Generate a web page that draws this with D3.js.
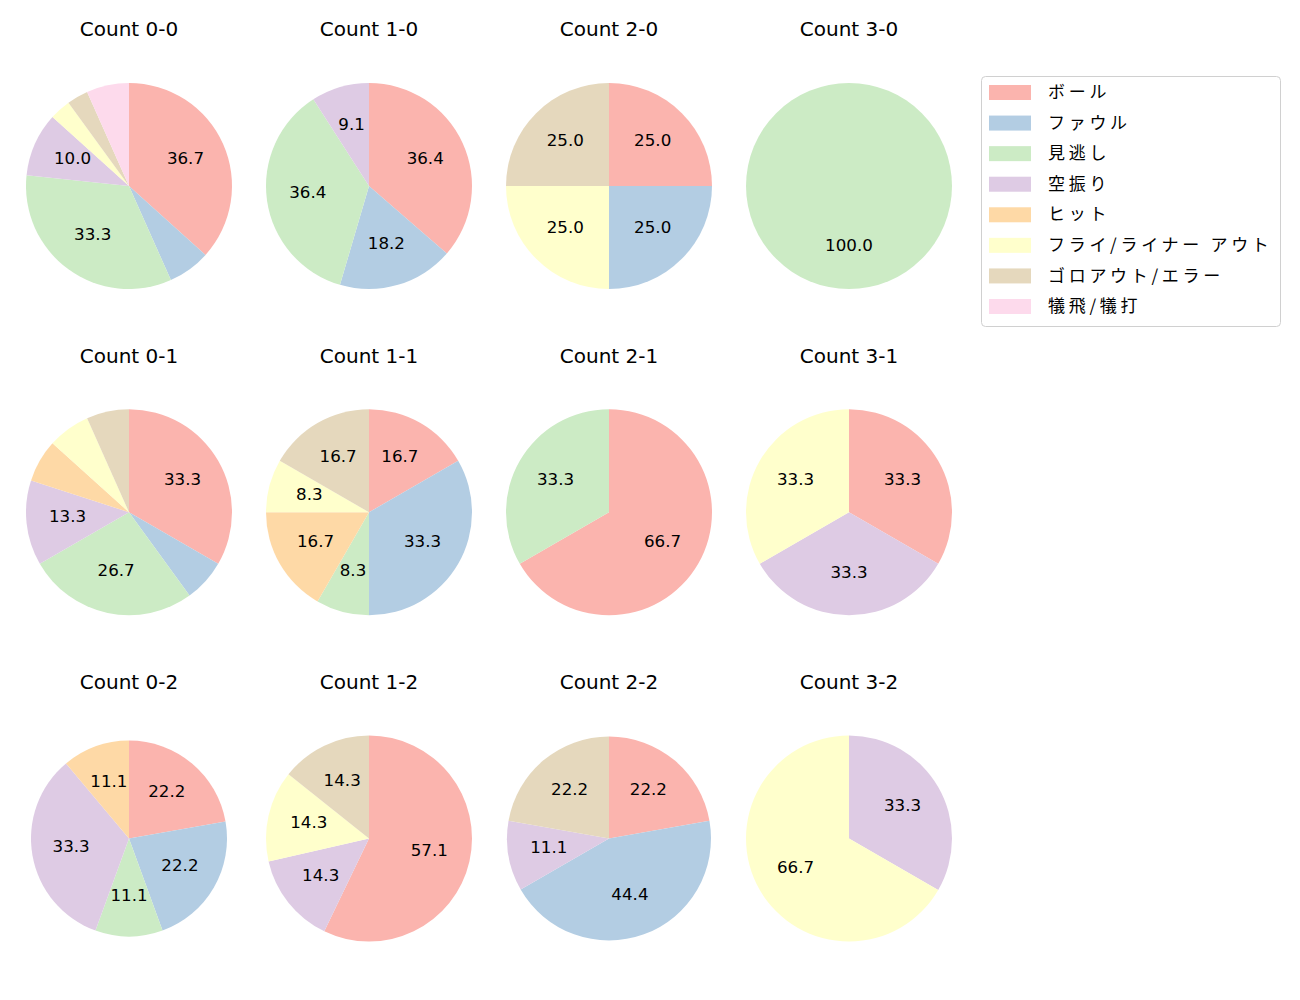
<!DOCTYPE html>
<html><head><meta charset="utf-8">
<script src="https://cdn.jsdelivr.net/npm/d3@7"></script>
<style>body{margin:0;background:#fff}</style>
</head><body>
<script>
const categories = ["ボール","ファウル","見逃し","空振り","ヒット","フライ/ライナー アウト","ゴロアウト/エラー","犠飛/犠打"];
const colors = ["#fbb4ae","#b3cde3","#ccebc5","#decbe4","#fed9a6","#ffffcc","#e5d8bd","#fddaec"];
const panelTitles = ["Count 0-0","Count 1-0","Count 2-0","Count 3-0",
                     "Count 0-1","Count 1-1","Count 2-1","Count 3-1",
                     "Count 0-2","Count 1-2","Count 2-2","Count 3-2"];
// counts per category (order as categories)
const c00 = [11,2,10,3,0,1,1,2];
const c10 = [4,2,4,1,0,0,0,0];
const c20 = [1,1,0,0,0,1,1,0];
const c30 = [0,0,1,0,0,0,0,0];
const c01 = [5,1,4,2,1,1,1,0];
const c11 = [2,4,1,0,2,1,2,0];
const c21 = [2,0,1,0,0,0,0,0];
const c31 = [1,0,0,1,0,1,0,0];
const c02 = [2,2,1,3,1,0,0,0];
const c12 = [4,0,0,1,0,1,1,0];
const c22 = [2,4,0,1,0,0,2,0];
const c32 = [0,0,0,1,0,2,0,0];
const panelData = [c00,c10,c20,c30,c01,c11,c21,c31,c02,c12,c22,c32];

// layout: pie radius per panel (px)
const radii = [103,103,103,103, 103,103,103,103, 98,103,102,103];

const W=1300,H=1000;
const svg = d3.select("body").append("svg").attr("width",W).attr("height",H);
const latin = "'DejaVu Sans','Noto Sans CJK JP',sans-serif";
const jp = "'Noto Sans CJK JP','DejaVu Sans',sans-serif";
const colX = d3.scalePoint().domain([0,1,2,3]).range([129,849]);
const rowY = d3.scalePoint().domain([0,1,2]).range([186,838.5]);
const pie = d3.pie().sort(null).value(d=>d.v).startAngle(0).endAngle(2*Math.PI);

panelData.forEach((vals,i)=>{
  const cx = colX(i%4), cy = rowY(Math.floor(i/4));
  const R = radii[i];
  const arc = d3.arc().innerRadius(0).outerRadius(R);
  const labelArc = d3.arc().innerRadius(R*0.6).outerRadius(R*0.6);
  const total = d3.sum(vals);
  const items = vals.map((v,k)=>({v, k})).filter(d=>d.v>0);
  const g = svg.append("g").attr("transform",`translate(${cx},${cy})`);
  const arcs = pie(items);
  g.selectAll("path").data(arcs).join("path")
    .attr("d",arc).attr("fill",d=>colors[d.data.k]);
  g.selectAll("text").data(arcs.filter(d=>d.data.v/total*100>=8)).join("text")
    .attr("transform",d=>{
      if (items.length===1) return `translate(0,${R*0.6})`;
      const c = labelArc.centroid(d); return `translate(${c[0]},${c[1]})`;})
    .attr("text-anchor","middle").attr("y",-2.5).attr("dy","0.364em")
    .style("font-family",latin).style("font-size","16.7px").attr("fill","#000")
    .text(d=>(d.data.v/total*100).toFixed(1));
  svg.append("text").attr("x",cx).attr("y",[186,512.5,838.5][Math.floor(i/4)]-157).attr("dy","0.364em")
    .attr("text-anchor","middle")
    .style("font-family",latin).style("font-size","20px").attr("fill","#000")
    .text(panelTitles[i]);
});

// legend
const lg = svg.append("g");
lg.append("rect").attr("x",981.5).attr("y",76.5).attr("width",299).attr("height",250)
  .attr("rx",4).attr("fill","#fff").attr("stroke","#d0d0d0");
const ly = d3.scaleLinear().domain([0,7]).range([92,306]);
categories.forEach((c,k)=>{
  lg.append("rect").attr("x",989).attr("y",ly(k)-7).attr("width",42).attr("height",15).attr("fill",colors[k]);
  lg.append("text").attr("x",1048).attr("y",ly(k)).attr("dy","0.36em")
    .style("font-family",jp).style("font-size","17px").style("letter-spacing","3.7px")
    .attr("fill","#000").text(c);
});
</script>
</body></html>
